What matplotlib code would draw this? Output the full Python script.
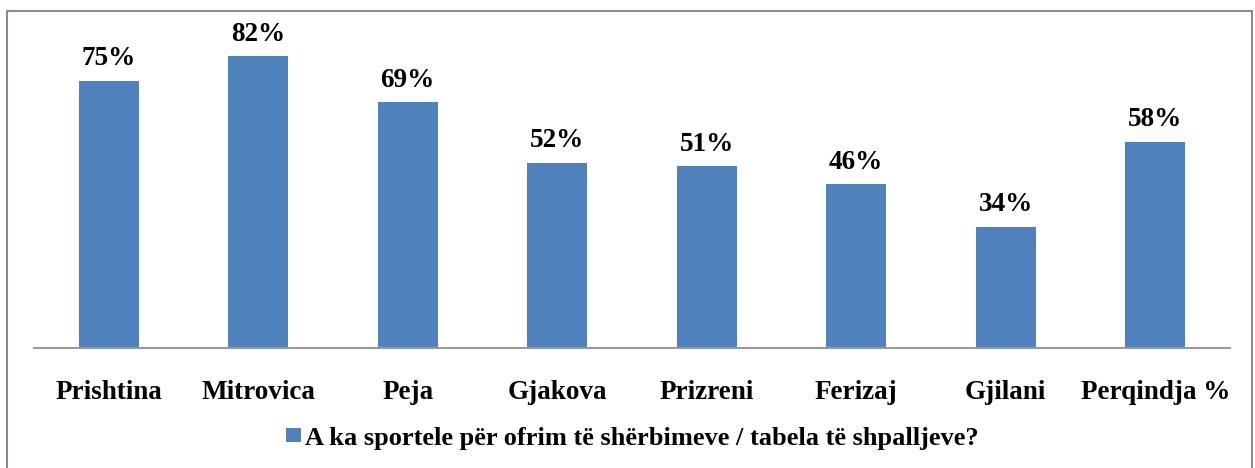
import matplotlib
matplotlib.use('Agg')
import matplotlib.pyplot as plt
from matplotlib.patches import Rectangle

# data
cities = ['Prishtina', 'Mitrovica', 'Peja', 'Gjakova', 'Prizreni', 'Ferizaj', 'Gjilani', 'Perqindja %']
values = [75, 82, 69, 52, 51, 46, 34, 58]
series_name = 'A ka sportele për ofrim të shërbimeve / tabela të shpalljeve?'

plt.rcParams['font.family'] = ['Liberation Serif', 'DejaVu Serif']
plt.rcParams['font.weight'] = 'bold'

W, H = 1255, 468
fig = plt.figure(figsize=(W / 100, H / 100), dpi=100)

# outer frame of the chart
fig.patches.append(Rectangle((7 / W, -0.05), 1245 / W, 1 - 11 / H + 0.05,
                             transform=fig.transFigure, fill=False,
                             edgecolor='#8c8c8c', linewidth=1.5))

ax = fig.add_axes([34 / W, (H - 348) / H, (1230 - 34) / W, 90 * 3.56 / H])
x = range(len(cities))
bars = ax.bar(x, values, width=0.4, color='#4F81BD', label=series_name)
ax.set_ylim(0, 90)
ax.set_xlim(-0.5, len(cities) - 0.5)

for b, v in zip(bars, values):
    ax.text(b.get_x() + b.get_width() / 2, v + 6.2, f'{v}%', ha='center', va='center',
            fontsize=19.5, fontweight='bold')

ax.set_xticks(list(x))
ax.set_xticklabels(cities, fontsize=19.5, fontweight='bold')
ax.tick_params(axis='x', length=0, pad=23)
ax.set_yticks([])
for s in ['top', 'right', 'left']:
    ax.spines[s].set_visible(False)
ax.spines['bottom'].set_color('#999999')
ax.spines['bottom'].set_linewidth(1.5)

leg = fig.legend(loc='center', bbox_to_anchor=(632 / W, 1 - 438 / H), frameon=False,
                 prop={'size': 19, 'weight': 'bold'}, handlelength=0.57, handleheight=0.45,
                 handletextpad=0.15)

fig.savefig('out.png', dpi=100)
